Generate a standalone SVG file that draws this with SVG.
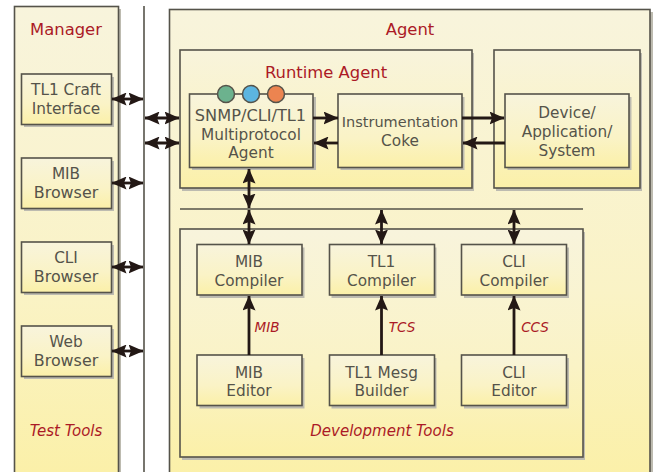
<svg xmlns="http://www.w3.org/2000/svg" width="656" height="472" viewBox="0 0 656 472">
<style>
.o{stroke:#55534a;stroke-width:1.6;fill:url(#g)}
.s{fill:#bdbbb0}
text{font-family:"DejaVu Sans","Liberation Sans",sans-serif;text-anchor:middle}
.t{font-size:15.300px;fill:#55534a}
.w{font-size:15.900px}
.h{font-size:16.400px;fill:#ab1a26}
.i{font-style:italic;font-size:15px;fill:#ab1a26}
.m{font-style:italic;font-size:13.500px;fill:#ab1a26}
.c line{stroke:#231815;stroke-width:2.800;fill:none}
.b{marker-start:url(#a);marker-end:url(#a)}
.e{marker-end:url(#a)}
.k{stroke:#55534a;stroke-width:1.600;fill:none}
</style>
<defs>
<linearGradient id="g" x1="0" y1="0" x2="0" y2="1"><stop offset="0" stop-color="#f8f4dc"/><stop offset="0.6" stop-color="#faf3c6"/><stop offset="1" stop-color="#fbf0a8"/></linearGradient>
<marker id="a" viewBox="0 0 15 13" refX="14.500" refY="6.500" markerWidth="15" markerHeight="13" markerUnits="userSpaceOnUse" orient="auto-start-reverse"><path d="M0 0L15 6.500L0 13L2.500 6.500Z" fill="#231815"/></marker>
</defs>
<g id="manager"><rect class="s" x="118" y="9" width="3" height="463"/><rect class="o" x="14.500" y="6.500" width="104" height="470"/><text class="h" x="66" y="35">Manager</text><text class="i" x="66" y="436">Test Tools</text></g>
<g id="tl1craft"><rect class="s" x="24" y="77" width="90" height="50"/><rect class="o" x="21.500" y="74" width="90" height="50.500"/><text class="t" x="66" y="95">TL1 Craft</text><text class="t" x="66" y="114">Interface</text></g>
<g id="mibbrowser"><rect class="s" x="24" y="161" width="90" height="50"/><rect class="o" x="21.500" y="158" width="90" height="50.500"/><text class="t" x="66" y="179">MIB</text><text class="t w" x="66" y="198">Browser</text></g>
<g id="clibrowser"><rect class="s" x="24" y="245" width="90" height="50"/><rect class="o" x="21.500" y="242" width="90" height="50.500"/><text class="t" x="66" y="263">CLI</text><text class="t w" x="66" y="282">Browser</text></g>
<g id="webbrowser"><rect class="s" x="24" y="329" width="90" height="50"/><rect class="o" x="21.500" y="326" width="90" height="50.500"/><text class="t" x="66" y="347">Web</text><text class="t w" x="66" y="366">Browser</text></g>
<line id="bus" class="k" x1="144" y1="6" x2="144" y2="472"/>
<g id="agent"><rect class="s" x="650" y="12" width="3" height="460"/><rect class="o" x="169.500" y="9.500" width="480.500" height="470"/><text class="h" x="410" y="35">Agent</text></g>
<g id="runtime"><rect class="s" x="182" y="53" width="292" height="138"/><rect class="o" x="180" y="50" width="292" height="138"/><text class="h" x="326" y="78">Runtime Agent</text></g>
<g id="deviceouter"><rect class="s" x="496" y="53" width="146" height="138"/><rect class="o" x="494" y="50" width="146" height="138"/></g>
<g id="snmp"><rect class="s" x="192" y="97" width="124" height="73"/><rect class="o" x="189.500" y="94" width="123.500" height="73.500"/><circle cx="226" cy="94" r="8.500" fill="#6cb28e" stroke="#55534a" stroke-width="1.500"/><circle cx="251" cy="94" r="8.500" fill="#5cb5e0" stroke="#55534a" stroke-width="1.500"/><circle cx="276" cy="94" r="8.500" fill="#ec8450" stroke="#55534a" stroke-width="1.500"/><text class="t" x="250.500" y="121" style="font-size:16.200px">SNMP/CLI/TL1</text><text class="t" x="251" y="140">Multiprotocol</text><text class="t" x="251" y="158">Agent</text></g>
<g id="instrumentation"><rect class="s" x="340.500" y="97" width="124" height="73"/><rect class="o" x="338" y="94" width="124" height="73.500"/><text class="t" x="400" y="127" style="font-size:14.500px">Instrumentation</text><text class="t" x="400" y="146">Coke</text></g>
<g id="device"><rect class="s" x="507.500" y="97" width="124" height="73"/><rect class="o" x="505" y="94" width="124" height="73.500"/><text class="t" x="567" y="118">Device/</text><text class="t" x="567" y="137">Application/</text><text class="t" x="567" y="156">System</text></g>
<line id="busline" class="k" x1="180" y1="209" x2="583" y2="209"/>
<g id="devtools"><rect class="s" x="182" y="232" width="403" height="228"/><rect class="o" x="180" y="229" width="403" height="228"/><text class="i" x="382" y="436">Development Tools</text></g>
<g id="mibcompiler"><rect class="s" x="199.500" y="247.500" width="105" height="50.500"/><rect class="o" x="197" y="244.500" width="105" height="50.500"/><text class="t" x="249" y="267">MIB</text><text class="t" x="249" y="286">Compiler</text></g>
<g id="tl1compiler"><rect class="s" x="331.500" y="247.500" width="105" height="50.500"/><rect class="o" x="329.500" y="244.500" width="105" height="50.500"/><text class="t" x="381.500" y="267">TL1</text><text class="t" x="381.500" y="286">Compiler</text></g>
<g id="clicompiler"><rect class="s" x="464" y="247.500" width="105" height="50.500"/><rect class="o" x="461.500" y="244.500" width="105" height="50.500"/><text class="t" x="514" y="267">CLI</text><text class="t" x="514" y="286">Compiler</text></g>
<g id="mibeditor"><rect class="s" x="199.500" y="358" width="105" height="50.500"/><rect class="o" x="197" y="355" width="105" height="50.500"/><text class="t" x="249" y="378">MIB</text><text class="t" x="249" y="396">Editor</text></g>
<g id="tl1builder"><rect class="s" x="331.500" y="358" width="105" height="50.500"/><rect class="o" x="329.500" y="355" width="105" height="50.500"/><text class="t" x="381.500" y="378">TL1 Mesg</text><text class="t" x="381.500" y="396">Builder</text></g>
<g id="clieditor"><rect class="s" x="464" y="358" width="105" height="50.500"/><rect class="o" x="461.500" y="355" width="105" height="50.500"/><text class="t" x="514" y="378">CLI</text><text class="t" x="514" y="396">Editor</text></g>
<g id="connectors" class="c">
<line class="b" x1="112" y1="99" x2="143" y2="99"/>
<line class="b" x1="112" y1="183" x2="143" y2="183"/>
<line class="b" x1="112" y1="267" x2="143" y2="267"/>
<line class="b" x1="112" y1="351" x2="143" y2="351"/>
<line class="b" x1="145" y1="118" x2="179" y2="118"/>
<line class="b" x1="145" y1="143" x2="179" y2="143"/>
<line class="e" x1="313" y1="118" x2="338" y2="118"/>
<line class="e" x1="338" y1="143" x2="314" y2="143"/>
<line class="e" x1="462" y1="118" x2="504" y2="118"/>
<line class="e" x1="505" y1="143" x2="463" y2="143"/>
<line class="b" x1="249" y1="169" x2="249" y2="208"/>
<line class="b" x1="249" y1="210" x2="249" y2="244"/>
<line class="b" x1="381.500" y1="210" x2="381.500" y2="244"/>
<line class="b" x1="514" y1="210" x2="514" y2="244"/>
<line class="e" x1="249" y1="355" x2="249" y2="296"/>
<line class="e" x1="381.500" y1="355" x2="381.500" y2="296"/>
<line class="e" x1="514" y1="355" x2="514" y2="296"/>
</g>
<text class="m" x="267" y="332">MIB</text>
<text class="m" x="402" y="332">TCS</text>
<text class="m" x="535" y="332">CCS</text>
</svg>
